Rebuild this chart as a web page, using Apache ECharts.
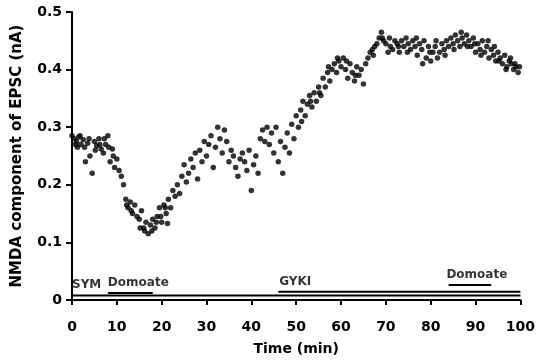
<!DOCTYPE html>
<html>
<head>
<meta charset="utf-8">
<script src="https://cdn.jsdelivr.net/npm/echarts@6/dist/echarts.min.js"></script>
<style>
  html, body { margin: 0; padding: 0; background: #fff; }
  #chart { width: 538px; height: 364px; }
</style>
</head>
<body>
<div id="chart"></div>
<script>
// time of each sample (min)
const times = [
  0, 0.5, 1, 1.5, 2, 2.5, 3, 3.5, 4, 4.5, 5, 5.5, 6, 6.5, 7, 7.5, 8, 8.5, 9, 9.5,
  10, 10.5, 11, 11.5, 12, 12.5, 13, 13.5, 14, 14.5, 15, 15.5, 16, 16.5, 17, 17.5, 18, 18.5, 19, 19.5,
  20, 20.5, 21, 21.5, 22, 22.5, 23, 23.5, 24, 24.5, 25, 25.5, 26, 26.5, 27, 27.5, 28, 28.5, 29, 29.5,
  30, 30.5, 31, 31.5, 32, 32.5, 33, 33.5, 34, 34.5, 35, 35.5, 36, 36.5, 37, 37.5, 38, 38.5, 39, 39.5,
  40, 40.5, 41, 41.5, 42, 42.5, 43, 43.5, 44, 44.5, 45, 45.5, 46, 46.5, 47, 47.5, 48, 48.5, 49, 49.5,
  50, 50.5, 51, 51.5, 52, 52.5, 53, 53.5, 54, 54.5, 55, 55.5, 56, 56.5, 57, 57.5, 58, 58.5, 59, 59.5,
  60, 60.5, 61, 61.5, 62, 62.5, 63, 63.5, 64, 64.5, 65, 65.5, 66, 66.5, 67, 67.5, 68, 68.5, 69, 69.5,
  70, 70.5, 71, 71.5, 72, 72.5, 73, 73.5, 74, 74.5, 75, 75.5, 76, 76.5, 77, 77.5, 78, 78.5, 79, 79.5,
  80, 80.5, 81, 81.5, 82, 82.5, 83, 83.5, 84, 84.5, 85, 85.5, 86, 86.5, 87, 87.5, 88, 88.5, 89, 89.5,
  90, 90.5, 91, 91.5, 92, 92.5, 93, 93.5, 94, 94.5, 95, 95.5, 96, 96.5, 97, 97.5, 98, 98.5, 99, 99.5
]
// NMDA component of EPSC (nA)
const nmda = [
  0.285, 0.28, 0.275, 0.283, 0.27, 0.278, 0.24, 0.272, 0.25, 0.22, 0.275, 0.268, 0.28, 0.262, 0.255, 0.27, 0.285, 0.24, 0.262, 0.23,
  0.245, 0.225, 0.215, 0.2, 0.175, 0.16, 0.17, 0.15, 0.165, 0.145, 0.14, 0.155, 0.125, 0.135, 0.115, 0.13, 0.14, 0.125, 0.145, 0.16,
  0.135, 0.165, 0.15, 0.175, 0.16, 0.19, 0.18, 0.2, 0.185, 0.215, 0.235, 0.205, 0.22, 0.245, 0.23, 0.255, 0.21, 0.26, 0.24, 0.275,
  0.25, 0.27, 0.285, 0.23, 0.265, 0.3, 0.28, 0.255, 0.295, 0.275, 0.24, 0.26, 0.25, 0.23, 0.215, 0.245, 0.255, 0.24, 0.225, 0.26,
  0.19, 0.235, 0.25, 0.22, 0.28, 0.295, 0.275, 0.3, 0.27, 0.29, 0.255, 0.3, 0.24, 0.275, 0.22, 0.265, 0.29, 0.255, 0.305, 0.28,
  0.32, 0.3, 0.33, 0.345, 0.32, 0.34, 0.355, 0.335, 0.36, 0.345, 0.37, 0.355, 0.385, 0.37, 0.395, 0.38, 0.4, 0.41, 0.395, 0.415,
  0.405, 0.42, 0.4, 0.385, 0.41, 0.395, 0.38, 0.405, 0.39, 0.4, 0.375, 0.41, 0.42, 0.43, 0.435, 0.44, 0.445, 0.455, 0.465, 0.45,
  0.445, 0.43, 0.44, 0.435, 0.45, 0.445, 0.43, 0.45, 0.44, 0.455, 0.445, 0.435, 0.45, 0.44, 0.425, 0.445, 0.435, 0.45, 0.42, 0.44,
  0.415, 0.43, 0.44, 0.42, 0.43, 0.445, 0.435, 0.45, 0.44, 0.455, 0.445, 0.46, 0.45, 0.44, 0.455, 0.445, 0.46, 0.45, 0.44, 0.455,
  0.43, 0.445, 0.435, 0.45, 0.43, 0.44, 0.42, 0.435, 0.425, 0.415, 0.43, 0.42, 0.41, 0.425, 0.405, 0.415, 0.41, 0.4, 0.405, 0.395
]
// extra samples read where the cloud is thicker
const extraTimes = [
  0.8, 1.2, 1.8, 2.8, 3.8, 5.2, 6.2, 7.2, 8.2, 9.2,
  12.2, 13.2, 15.2, 16.2, 17.8, 18.8, 19.8, 20.8, 21.3,
  51.2, 53.2, 55.2, 57.2, 59.2, 61.2, 63.2, 67.2, 69.2,
  70.8, 72.8, 74.8, 76.8, 78.2, 79.8, 81.2, 83.2, 85.2, 86.8,
  88.2, 89.8, 91.2, 92.8, 94.2, 95.2, 96.8, 97.8, 98.8, 99.8
]
const extraNmda = [
  0.27, 0.265, 0.285, 0.265, 0.28, 0.26, 0.27, 0.28, 0.265, 0.25,
  0.165, 0.155, 0.125, 0.12, 0.12, 0.135, 0.145, 0.16, 0.133,
  0.31, 0.345, 0.36, 0.405, 0.42, 0.415, 0.39, 0.425, 0.455,
  0.455, 0.44, 0.43, 0.455, 0.41, 0.43, 0.45, 0.425, 0.435, 0.465,
  0.44, 0.445, 0.425, 0.45, 0.44, 0.415, 0.4, 0.42, 0.41, 0.405
]

// drug application bars: [start, end, level]
const bars = [
  [0, 100, 0.008],
  [8, 18, 0.012],
  [46, 100, 0.0145],
  [84, 93.5, 0.026]
]
const barLabels = ['SYM', 'Domoate', 'GYKI', 'Domoate']
const barLabelPos = [[0, 0.026], [8, 0.0295], [46.2, 0.031], [83.5, 0.043]]

const xTicks = [0, 10, 20, 30, 40, 50, 60, 70, 80, 90, 100]
const yTicks = [0, 0.1, 0.2, 0.3, 0.4, 0.5]

const FONT = 'DejaVu Sans'
const chart = echarts.init(document.getElementById('chart'))

const points = times.map((t, i) => [t, nmda[i]])
  .concat(extraTimes.map((t, i) => [t, extraNmda[i]]))

const barSeries = bars.map(b => ({
  type: 'line',
  data: [[b[0], b[2]], [b[1], b[2]]],
  symbol: 'none',
  lineStyle: { color: '#000', width: 2 },
  silent: true,
  animation: false
}))

chart.setOption({
  animation: false,
  grid: { left: 72, right: 16, top: 12, bottom: 64 },
  xAxis: {
    type: 'value',
    min: 0, max: 100, interval: 10,
    name: 'Time (min)',
    nameLocation: 'middle',
    nameGap: 42,
    nameTextStyle: { fontFamily: FONT, fontWeight: 'bold', fontSize: 14, color: '#000' },
    axisLine: { lineStyle: { color: '#000', width: 2 } },
    axisTick: { show: true, length: 5, lineStyle: { color: '#000', width: 2 } },
    axisLabel: {
      fontFamily: FONT, fontWeight: 'bold', fontSize: 14, color: '#000', margin: 20,
      formatter: v => xTicks.includes(v) ? String(v) : ''
    },
    splitLine: { show: false }
  },
  yAxis: {
    type: 'value',
    min: 0, max: 0.5, interval: 0.1,
    name: 'NMDA component of EPSC (nA)',
    nameLocation: 'middle',
    nameGap: 47,
    nameTextStyle: { fontFamily: FONT, fontWeight: 'bold', fontSize: 15, color: '#000' },
    axisLine: { show: true, lineStyle: { color: '#000', width: 2 } },
    axisTick: { show: true, length: 6, lineStyle: { color: '#000', width: 2 } },
    axisLabel: {
      fontFamily: FONT, fontWeight: 'bold', fontSize: 14, color: '#000', margin: 10,
      formatter: v => {
        const t = yTicks.find(y => Math.abs(y - v) < 1e-9)
        return t === undefined ? '' : (t === 0 ? '0' : t.toFixed(1))
      }
    },
    splitLine: { show: false }
  },
  series: [
    {
      type: 'scatter',
      data: points,
      symbol: 'circle',
      symbolSize: 5.5,
      itemStyle: { color: '#000' },
      silent: true
    },
    ...barSeries,
    {
      type: 'scatter',
      data: barLabelPos.map((p, i) => ({ value: p, name: barLabels[i] })),
      symbolSize: 0,
      silent: true,
      label: {
        show: true,
        position: 'right',
        distance: 0,
        formatter: p => p.name,
        fontFamily: FONT, fontWeight: 'bold', fontSize: 12, color: '#000'
      }
    }
  ]
})
</script>
</body>
</html>
